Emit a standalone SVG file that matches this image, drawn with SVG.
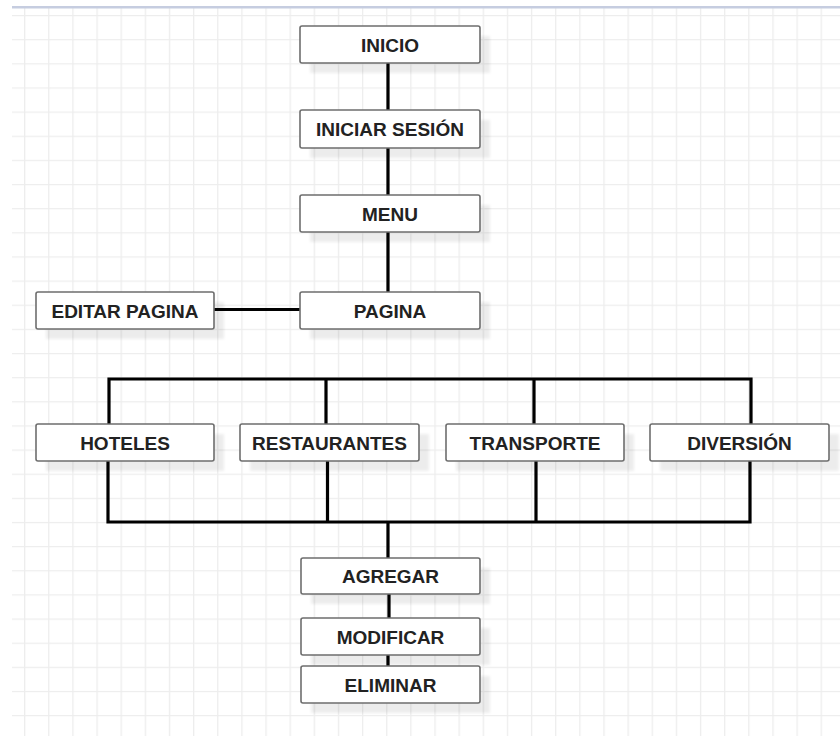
<svg xmlns="http://www.w3.org/2000/svg" width="840" height="736" viewBox="0 0 840 736">
<defs>
<pattern id="grid" patternUnits="userSpaceOnUse" x="24" y="15" width="24.14" height="24.14">
<path d="M0,0 V24.14 M0,0 H24.14" fill="none" stroke="#ededed" stroke-width="2.6"/>
</pattern>
<filter id="sh" x="-10%" y="-30%" width="120%" height="160%">
<feGaussianBlur stdDeviation="1.5"/>
</filter>
<style>
.box rect.b{fill:#fff;stroke:#6e6e6e;stroke-width:1.6}
.box rect.s{fill:#000;opacity:0.07;filter:url(#sh)}
.box text{font-family:"Liberation Sans",Arial,sans-serif;font-size:19px;font-weight:bold;fill:#222;text-anchor:middle}
#connectors path{fill:none;stroke:#000;stroke-width:3.2}
</style>
</defs>
<rect x="0" y="0" width="840" height="736" fill="#fff"/>
<rect x="12" y="8" width="828" height="728" fill="url(#grid)"/>
<rect x="12" y="6" width="828" height="2.5" fill="#c6cde0"/>

<g id="connectors">
<path d="M388,63 V110 M388,148 V195 M388,232 V292"/>
<path d="M214,309.5 H300"/>
<path d="M109,424 V379 H751 V424 M326,379 V424 M534,379 V424"/>
<path d="M108,461 V522 H750 V461 M327.5,461 V522 M536,461 V522 M388,522 V558"/>
<path d="M389,594 V618 M388,655 V666"/>
</g>

<g id="inicio" class="box"><rect class="s" x="310" y="36" width="180" height="37"/><rect class="b" x="300" y="26" width="180" height="37" rx="2"/><text x="390" y="51.5">INICIO</text></g>
<g id="iniciar-sesion" class="box"><rect class="s" x="310" y="120" width="180" height="38"/><rect class="b" x="300" y="110" width="180" height="38" rx="2"/><text x="390" y="136">INICIAR SESIÓN</text></g>
<g id="menu" class="box"><rect class="s" x="310" y="205" width="180" height="37"/><rect class="b" x="300" y="195" width="180" height="37" rx="2"/><text x="390" y="220.5">MENU</text></g>
<g id="pagina" class="box"><rect class="s" x="310" y="302" width="180" height="37"/><rect class="b" x="300" y="292" width="180" height="37" rx="2"/><text x="390" y="317.5">PAGINA</text></g>
<g id="editar-pagina" class="box"><rect class="s" x="46" y="302" width="178" height="37"/><rect class="b" x="36" y="292" width="178" height="37" rx="2"/><text x="125" y="317.5">EDITAR PAGINA</text></g>
<g id="hoteles" class="box"><rect class="s" x="46" y="434" width="178" height="37"/><rect class="b" x="36" y="424" width="178" height="37" rx="2"/><text x="125" y="449.5">HOTELES</text></g>
<g id="restaurantes" class="box"><rect class="s" x="250" y="434" width="179" height="37"/><rect class="b" x="240" y="424" width="179" height="37" rx="2"/><text x="329.5" y="449.5">RESTAURANTES</text></g>
<g id="transporte" class="box"><rect class="s" x="456" y="434" width="178" height="37"/><rect class="b" x="446" y="424" width="178" height="37" rx="2"/><text x="535" y="449.5">TRANSPORTE</text></g>
<g id="diversion" class="box"><rect class="s" x="660" y="434" width="179" height="37"/><rect class="b" x="650" y="424" width="179" height="37" rx="2"/><text x="739.5" y="449.5">DIVERSIÓN</text></g>
<g id="agregar" class="box"><rect class="s" x="311" y="568" width="179" height="36"/><rect class="b" x="301" y="558" width="179" height="36" rx="2"/><text x="390.5" y="583">AGREGAR</text></g>
<g id="modificar" class="box"><rect class="s" x="311" y="628" width="179" height="37"/><rect class="b" x="301" y="618" width="179" height="37" rx="2"/><text x="390.5" y="643.5">MODIFICAR</text></g>
<g id="eliminar" class="box"><rect class="s" x="311" y="676" width="179" height="37"/><rect class="b" x="301" y="666" width="179" height="37" rx="2"/><text x="390.5" y="691.5">ELIMINAR</text></g>
</svg>
